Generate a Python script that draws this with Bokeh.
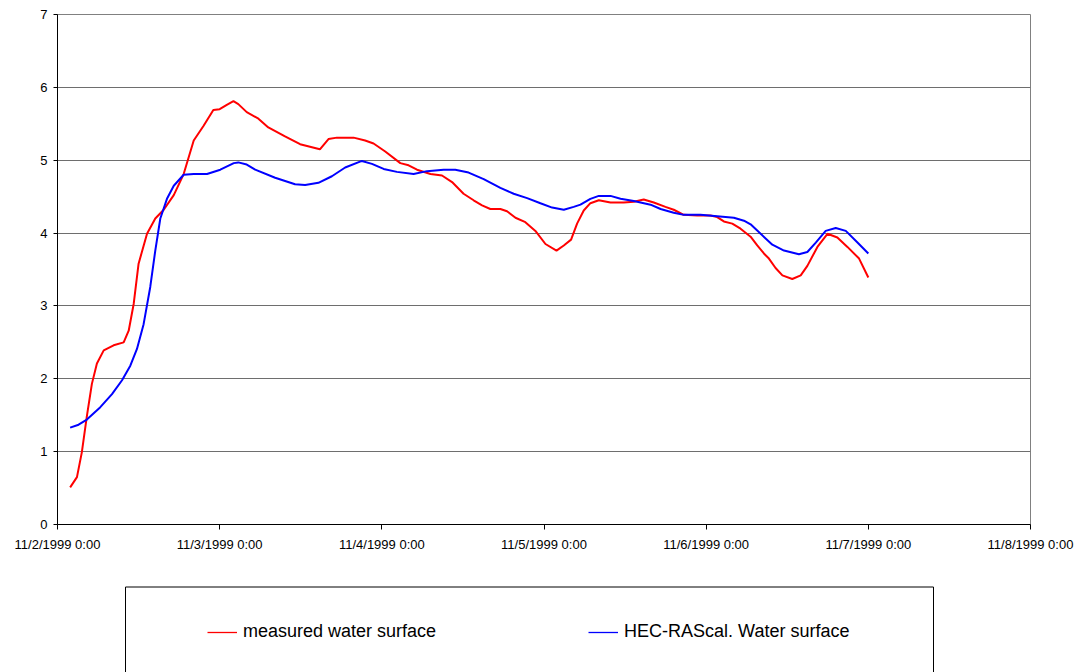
from bokeh.plotting import figure
from bokeh.layouts import column
from bokeh.models import Range1d, FixedTicker, Legend, LegendItem, BoxAnnotation
from bokeh.embed import file_html
from bokeh.resources import INLINE

# time in days since 11/2/1999 0:00
measured_t = [0.078, 0.12, 0.15, 0.18, 0.212, 0.243, 0.285, 0.346, 0.408, 0.439, 0.47, 0.50,
              0.552, 0.603, 0.655, 0.717, 0.778, 0.84, 0.90, 0.961, 1.0, 1.044, 1.085, 1.115,
              1.167, 1.239, 1.30, 1.40, 1.496, 1.618, 1.671, 1.723, 1.826, 1.897, 1.949, 2.021,
              2.114, 2.165, 2.217, 2.30, 2.371, 2.433, 2.504, 2.566, 2.618, 2.669, 2.731, 2.772,
              2.824, 2.885, 2.947, 3.009, 3.077, 3.122, 3.167, 3.204, 3.245, 3.286, 3.338, 3.41,
              3.492, 3.554, 3.615, 3.677, 3.749, 3.80, 3.862, 3.945, 4.027, 4.068, 4.109, 4.161,
              4.212, 4.274, 4.315, 4.356, 4.387, 4.428, 4.47, 4.531, 4.583, 4.624, 4.686, 4.748,
              4.809, 4.871, 4.943, 5.0]
measured_v = [0.51, 0.65, 0.99, 1.47, 1.93, 2.21, 2.39, 2.46, 2.50, 2.66, 3.03, 3.58,
              3.99, 4.20, 4.32, 4.52, 4.81, 5.27, 5.47, 5.69, 5.70, 5.76, 5.81, 5.77,
              5.66, 5.57, 5.45, 5.33, 5.22, 5.15, 5.29, 5.31, 5.31, 5.27, 5.23, 5.12,
              4.96, 4.93, 4.87, 4.81, 4.79, 4.70, 4.54, 4.45, 4.38, 4.33, 4.33, 4.30,
              4.21, 4.15, 4.03, 3.85, 3.76, 3.83, 3.91, 4.13, 4.31, 4.41, 4.45, 4.42,
              4.42, 4.43, 4.46, 4.42, 4.36, 4.32, 4.25, 4.24, 4.24, 4.22, 4.16, 4.13,
              4.06, 3.95, 3.83, 3.72, 3.65, 3.52, 3.42, 3.37, 3.42, 3.55, 3.81, 3.99,
              3.94, 3.81, 3.65, 3.39]

hecras_t = [0.078, 0.13, 0.181, 0.264, 0.336, 0.398, 0.449, 0.49, 0.531, 0.572, 0.603, 0.634,
            0.675, 0.717, 0.778, 0.84, 0.922, 1.004, 1.087, 1.115, 1.167, 1.219, 1.342, 1.465,
            1.527, 1.609, 1.692, 1.774, 1.877, 1.939, 2.011, 2.093, 2.196, 2.278, 2.381, 2.453,
            2.535, 2.628, 2.731, 2.813, 2.896, 2.978, 3.05, 3.122, 3.183, 3.225, 3.286, 3.338,
            3.41, 3.472, 3.554, 3.657, 3.719, 3.80, 3.862, 3.965, 4.068, 4.171, 4.233, 4.274,
            4.336, 4.408, 4.48, 4.572, 4.624, 4.676, 4.737, 4.799, 4.861, 4.933, 5.0]
hecras_v = [1.33, 1.37, 1.44, 1.61, 1.79, 1.98, 2.18, 2.41, 2.75, 3.26, 3.76, 4.20,
            4.47, 4.65, 4.80, 4.81, 4.81, 4.87, 4.96, 4.97, 4.94, 4.87, 4.76, 4.67,
            4.66, 4.69, 4.78, 4.90, 4.99, 4.95, 4.88, 4.84, 4.81, 4.85, 4.87, 4.87,
            4.83, 4.74, 4.62, 4.54, 4.48, 4.41, 4.35, 4.32, 4.36, 4.39, 4.47, 4.51,
            4.51, 4.47, 4.44, 4.39, 4.33, 4.28, 4.25, 4.25, 4.23, 4.21, 4.17, 4.12,
            3.99, 3.84, 3.76, 3.71, 3.74, 3.87, 4.03, 4.07, 4.03, 3.87, 3.72]

x_ticks = [0, 1, 2, 3, 4, 5, 6]
x_tick_labels = ["11/2/1999 0:00", "11/3/1999 0:00", "11/4/1999 0:00", "11/5/1999 0:00",
                 "11/6/1999 0:00", "11/7/1999 0:00", "11/8/1999 0:00"]
y_ticks = [0, 1, 2, 3, 4, 5, 6, 7]

series_labels = ["measured water surface", "HEC-RAScal. Water surface"]
series_colors = ["#FF0000", "#0000FF"]

FONT = "Liberation Sans"

# ---- main chart ----
p = figure(width=1083, height=585, output_backend="svg", toolbar_location=None,
           x_range=Range1d(0, 6), y_range=Range1d(0, 7),
           min_border_left=57, min_border_right=53, min_border_top=14, min_border_bottom=61)
p.background_fill_color = "white"
p.border_fill_color = "white"
p.outline_line_color = "#808080"
p.outline_line_width = 1

p.line(measured_t, measured_v, line_color=series_colors[0], line_width=2)
p.line(hecras_t, hecras_v, line_color=series_colors[1], line_width=2)

p.xgrid.visible = False
p.ygrid.grid_line_color = "#6E6E6E"
p.ygrid.grid_line_width = 1
p.ygrid.ticker = FixedTicker(ticks=y_ticks)

p.xaxis.ticker = FixedTicker(ticks=x_ticks)
p.xaxis.major_label_overrides = {t: l for t, l in zip(x_ticks, x_tick_labels)}
p.yaxis.ticker = FixedTicker(ticks=y_ticks)
for ax in (p.xaxis[0], p.yaxis[0]):
    ax.axis_line_color = "black"
    ax.axis_line_width = 1
    ax.major_tick_line_color = "black"
    ax.major_tick_in = 0
    ax.minor_tick_line_color = None
    ax.major_label_text_font = FONT
    ax.major_label_text_font_size = "13px"
    ax.major_label_text_color = "black"
p.xaxis.major_tick_out = 5
p.xaxis.major_label_standoff = 7
p.yaxis.major_tick_out = 4
p.yaxis.major_label_standoff = 6

# ---- legend panel (boxed, below chart) ----
lg = figure(width=1083, height=87, output_backend="svg", toolbar_location=None,
            x_range=Range1d(0, 6), y_range=Range1d(100, 101),
            x_axis_location=None, y_axis_location=None,
            min_border_left=57, min_border_right=53, min_border_top=0, min_border_bottom=0)
lg.background_fill_color = "white"
lg.border_fill_color = "white"
lg.outline_line_color = None
lg.xgrid.visible = False
lg.ygrid.visible = False
# same series, kept outside this panel's visible range: they only provide legend glyphs
l1 = lg.line(measured_t, measured_v, line_color=series_colors[0], line_width=1.3)
l2 = lg.line(hecras_t, hecras_v, line_color=series_colors[1], line_width=1.3)

# legend frame box (its lower edge runs past the bottom of the page, as in the original)
box = BoxAnnotation(left=68, right=876, top=85.5, bottom=-20,
                    left_units="screen", right_units="screen",
                    top_units="screen", bottom_units="screen",
                    fill_alpha=0, line_color="black", line_width=1, line_alpha=1)
lg.add_layout(box)

legend = Legend(items=[LegendItem(label=series_labels[0], renderers=[l1]),
                       LegendItem(label=series_labels[1], renderers=[l2])],
                orientation="horizontal", location=(142, 22),
                padding=8, spacing=152, glyph_width=30, glyph_height=16,
                label_standoff=6, label_text_font=FONT, label_text_font_size="18px",
                label_text_color="black", border_line_alpha=0, background_fill_alpha=0)
lg.add_layout(legend, "center")

layout = column(p, lg, spacing=0)
open("out.html", "w").write(file_html(layout, INLINE))
